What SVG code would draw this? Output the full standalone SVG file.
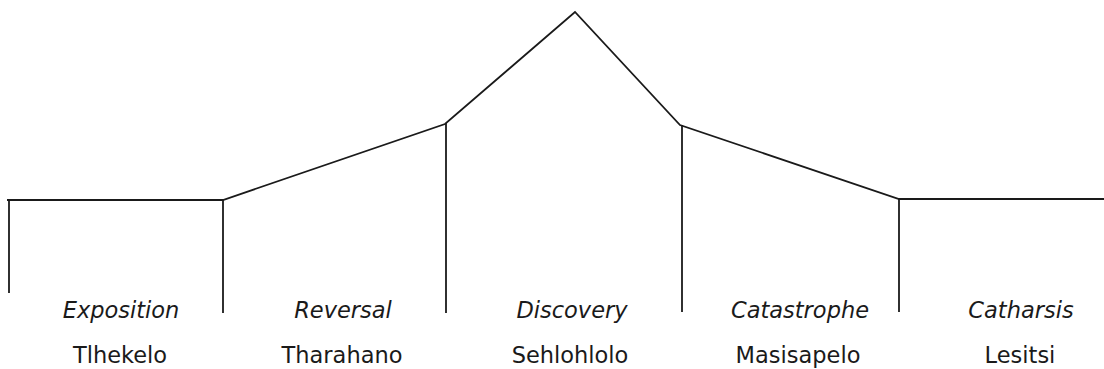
<svg xmlns="http://www.w3.org/2000/svg" width="1104" height="369" viewBox="0 0 1104 369">
<style>
.ln{fill:none;stroke:#1a1a1a;stroke-width:1.8;stroke-linejoin:miter}
.it{font-family:"DejaVu Sans",Verdana,sans-serif;font-style:italic;font-size:22.5px;fill:#1a1a1a;text-anchor:middle}
.rg{font-family:"DejaVu Sans",Verdana,sans-serif;font-size:22.5px;fill:#1a1a1a;text-anchor:middle}
</style>
<rect width="1104" height="369" fill="#fff"/>
<g id="connectors">
<polyline class="ln" points="7,200 223,200 445,124 575,12 680,125 899,199 1104,199"/>
<line class="ln" x1="9" y1="200" x2="9" y2="293"/>
<line class="ln" x1="223" y1="200" x2="223" y2="313"/>
<line class="ln" x1="446" y1="123" x2="446" y2="313"/>
<line class="ln" x1="682" y1="125" x2="682" y2="312"/>
<line class="ln" x1="899" y1="199" x2="899" y2="312"/>
</g>
<g id="exposition"><text class="it" x="121" y="318">Exposition</text><text class="rg" x="120" y="363">Tlhekelo</text></g>
<g id="reversal"><text class="it" x="343" y="318">Reversal</text><text class="rg" x="342" y="363">Tharahano</text></g>
<g id="discovery"><text class="it" x="572" y="318">Discovery</text><text class="rg" x="570" y="363">Sehlohlolo</text></g>
<g id="catastrophe"><text class="it" x="800" y="318">Catastrophe</text><text class="rg" x="798" y="363">Masisapelo</text></g>
<g id="catharsis"><text class="it" x="1021" y="318">Catharsis</text><text class="rg" x="1020" y="363">Lesitsi</text></g>
</svg>
